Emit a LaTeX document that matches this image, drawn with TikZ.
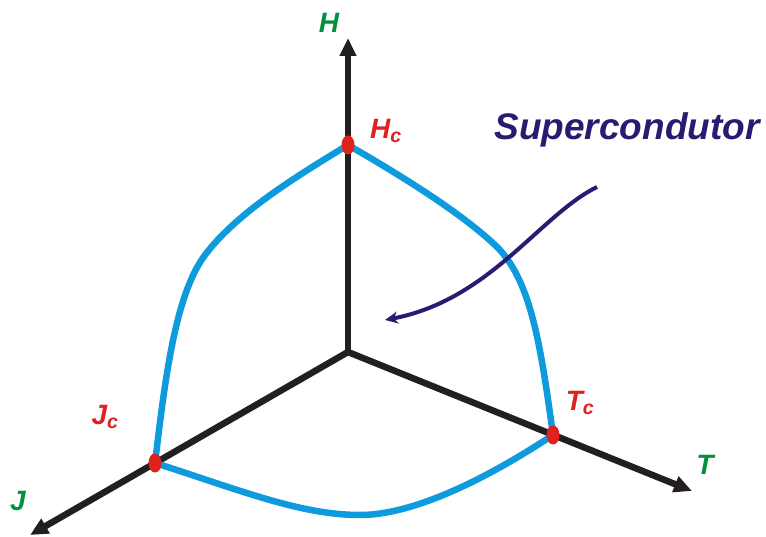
\documentclass[tikz,border=0pt]{standalone}
\usepackage{fontspec}
\setmainfont{Liberation Sans}
\usepackage{xcolor}
\usepackage{tikz}
\usetikzlibrary{arrows.meta,shapes.geometric}
\definecolor{sgreen}{HTML}{00913F}
\definecolor{sred}{HTML}{E0221F}
\definecolor{sblue}{HTML}{0E9BDD}
\definecolor{snavy}{HTML}{2B1A70}
\definecolor{saxis}{HTML}{231F20}

\begin{document}
\begin{tikzpicture}[x=1pt, y=-1pt, font=\bfseries\itshape\fontsize{28}{32}\selectfont,
  axis/.style={draw=saxis, line width=6.5pt, -{Triangle[length=18pt,width=16pt]}},
  phase/.style={draw=sblue, line width=6.5pt},
  crit/.style={ellipse, fill=sred, minimum width=13pt, minimum height=19pt, inner sep=0pt},
  axlab/.style={text=sgreen},
  critlab/.style={text=sred},
]
\useasboundingbox (0,0) rectangle (766,537);
% axes
\coordinate (O) at (348,352);
\coordinate (Hend) at (348,38);
\coordinate (Tend) at (692,491);
\coordinate (Jend) at (30,535);
\foreach \e in {Hend,Tend,Jend}
  \draw[axis] (O) -- (\e);
% critical points
\coordinate (hc) at (348,145);
\coordinate (tc) at (553,435);
\coordinate (jc) at (155,463);
% critical surface
\draw[phase] (hc) .. controls (400,175) and (460,212) .. (495,245)
  .. controls (530,278) and (540,340) .. (tc);
\draw[phase] (hc) .. controls (290,180) and (235,215) .. (205,255)
  .. controls (175,295) and (165,380) .. (jc);
\draw[phase] (jc) .. controls (240,490) and (300,515) .. (360,515)
  .. controls (420,515) and (500,470) .. (tc);
\foreach \p in {hc,tc,jc}
  \node[crit] (\p dot) at (\p) {};
% labels
\node[axlab] (Hlab) at (329,23) {H};
\node[axlab] (Tlab) at (705,465) {T};
\node[axlab] (Jlab) at (18,501) {J};
\node[critlab] (Hclab) at (386,131) {H\textsubscript{c}};
\node[critlab] (Tclab) at (580,403) {T\textsubscript{c}};
\node[critlab] (Jclab) at (105,417) {J\textsubscript{c}};
\node[text=snavy, font=\bfseries\itshape\fontsize{37}{41}\selectfont] (sclab) at (627,130) {Supercondutor};
\coordinate (arrstart) at (597,187);
\coordinate (arrend) at (385,320);
\draw[snavy, line width=4pt, -{Stealth[length=13pt,width=12pt]}] (arrstart) .. controls (540,215) and (490,300) .. (arrend);
\end{tikzpicture}
\end{document}
